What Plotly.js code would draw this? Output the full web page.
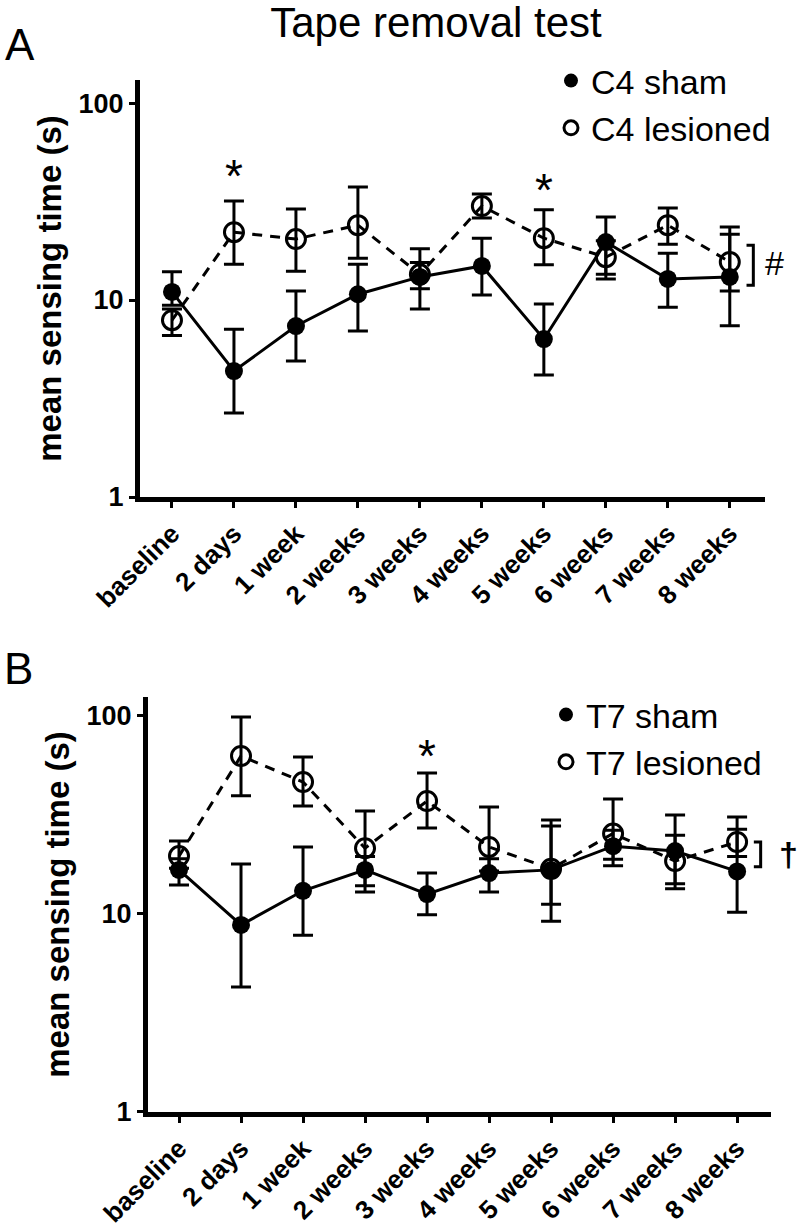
<!DOCTYPE html>
<html>
<head>
<meta charset="utf-8">
<script src="https://cdn.plot.ly/plotly-3.0.1.min.js"></script>
<style>html,body{margin:0;padding:0;background:#fff}#chart{width:800px;height:1229px}</style>
</head>
<body>
<div id="chart"></div>
<script>
// ---- data ----
const categories = ['baseline','2 days','1 week','2 weeks','3 weeks','4 weeks','5 weeks','6 weeks','7 weeks','8 weeks'];

// Panel A (C4)
const c4ShamMean  = [11.0, 4.36, 7.38, 10.7, 13.1, 14.9, 6.34, 19.7, 12.8, 13.1];
const c4ShamUpper = [13.9, 7.1, 11.1, 15.2, 15.5, 20.6, 9.55, 26.4, 17.3, 21.6];
const c4ShamLower = [9.4, 2.67, 4.9, 6.97, 9.0, 10.6, 4.16, 13.5, 9.2, 7.4];
const c4LesMean   = [7.9, 22.1, 20.4, 24.0, 13.5, 30.0, 20.6, 16.5, 24.0, 15.6];
const c4LesUpper  = [9.0, 31.8, 29.0, 37.5, 18.2, 34.5, 28.7, 20.0, 29.3, 23.5];
const c4LesLower  = [6.6, 15.2, 14.0, 16.3, 11.4, 26.1, 15.1, 12.8, 19.2, 11.1];

// Panel B (T7)
const t7ShamMean  = [16.7, 8.8, 13.1, 16.7, 12.6, 16.1, 16.7, 22.0, 20.8, 16.4];
const t7ShamUpper = [19.0, 17.9, 21.8, 19.5, 16.1, 19.0, 27.8, 26.5, 25.0, 26.8];
const t7ShamLower = [14.0, 4.28, 7.8, 12.9, 9.9, 12.9, 9.2, 18.9, 14.2, 10.2];
const t7LesMean   = [19.6, 62.8, 46.4, 21.5, 37.2, 21.8, 16.9, 25.5, 18.5, 23.1];
const t7LesUpper  = [23.4, 98.9, 62.1, 33.1, 51.5, 34.7, 29.8, 38.1, 31.6, 30.9];
const t7LesLower  = [17.0, 39.5, 35.1, 13.9, 27.2, 16.5, 11.2, 17.5, 13.4, 19.5];

// significance markers (category index, y value)
const starA_idx = [1, 6];
const starA_y   = [47.9, 40.6];
const starB_idx = [4];
const starB_y   = [70.5];

// group-difference brackets (y extent) and symbols
const bracketA = [11.9, 19.0];
const bracketB = [17.3, 23.1];
const bracketSymA = '#';
const bracketSymB = '†';

const yTickVals = [1, 10, 100];
const yTickText = ['1', '10', '100'];

// ---- helpers ----
const xIdx = categories.map((_, i) => i);
const up = (m, u) => u.map((v, i) => v - m[i]);
const dn = (m, l) => l.map((v, i) => m[i] - v);
const FONT = 'Liberation Sans, Arial, sans-serif';
const BX0 = 9.27, BX1 = 9.38;

function series(mean, upper, lower, xa, ya, lesioned) {
  return {
    x: xIdx, y: mean, xaxis: xa, yaxis: ya, type: 'scatter', mode: 'lines+markers',
    showlegend: false, cliponaxis: false,
    line: {color: '#000', width: 3, dash: lesioned ? '10px,8px' : 'solid'},
    marker: lesioned
      ? {symbol: 'circle-open', size: 19, color: '#000', line: {width: 3, color: '#000'}}
      : {symbol: 'circle', size: 18, color: '#000'},
    error_y: {type: 'data', symmetric: false, array: up(mean, upper), arrayminus: dn(mean, lower),
              color: '#000', thickness: 3, width: 10}
  };
}
function legendItem(name, lesioned, leg) {
  return {
    x: [null], y: [null], type: 'scatter', mode: 'markers', name: name, legend: leg,
    marker: lesioned
      ? {symbol: 'circle-open', size: 14, color: '#000', line: {width: 3, color: '#000'}}
      : {symbol: 'circle', size: 14, color: '#000'}
  };
}
function bracket(yr, xa, ya) {
  return {
    x: [BX0, BX1, BX1, BX0], y: [yr[1], yr[1], yr[0], yr[0]], xaxis: xa, yaxis: ya,
    type: 'scatter', mode: 'lines', showlegend: false, cliponaxis: false, hoverinfo: 'skip',
    line: {color: '#000', width: 3}
  };
}

const data = [
  series(c4LesMean, c4LesUpper, c4LesLower, 'x', 'y', true),
  series(c4ShamMean, c4ShamUpper, c4ShamLower, 'x', 'y', false),
  series(t7LesMean, t7LesUpper, t7LesLower, 'x2', 'y2', true),
  series(t7ShamMean, t7ShamUpper, t7ShamLower, 'x2', 'y2', false),
  bracket(bracketA, 'x', 'y'),
  bracket(bracketB, 'x2', 'y2'),
  legendItem('C4 sham', false, 'legend'),
  legendItem('C4 lesioned', true, 'legend'),
  legendItem('T7 sham', false, 'legend2'),
  legendItem('T7 lesioned', true, 'legend2')
];

function xAxis(domain, range, anchor) {
  return {
    domain: domain, range: range, anchor: anchor, tickmode: 'array', tickvals: xIdx, ticktext: categories,
    tickangle: -45, ticks: 'outside', ticklen: 6, tickwidth: 3, tickcolor: '#000',
    showline: true, linewidth: 5, linecolor: '#000', showgrid: false, zeroline: false,
    tickfont: {family: FONT, size: 26, color: '#000', weight: 'bold'}
  };
}
function yAxis(domain, range, anchor) {
  return {
    domain: domain, type: 'log', range: range, anchor: anchor, tickmode: 'array', tickvals: yTickVals, ticktext: yTickText,
    ticks: 'outside', ticklen: 6, tickwidth: 3, tickcolor: '#000',
    showline: true, linewidth: 5, linecolor: '#000', showgrid: false, zeroline: false,
    tickfont: {family: FONT, size: 27, color: '#000', weight: 'bold'},
    title: {text: 'mean sensing time (s)', standoff: 8,
            font: {family: FONT, size: 33, color: '#000', weight: 'bold'}}
  };
}

const annotations = [];
starA_idx.forEach((ix, i) => annotations.push({xref: 'x', yref: 'y', x: ix, y: Math.log10(starA_y[i]),
  text: '*', showarrow: false, font: {family: FONT, size: 46, color: '#000'}, yanchor: 'middle', yshift: -10}));
starB_idx.forEach((ix, i) => annotations.push({xref: 'x2', yref: 'y2', x: ix, y: Math.log10(starB_y[i]),
  text: '*', showarrow: false, font: {family: FONT, size: 46, color: '#000'}, yanchor: 'middle', yshift: -10}));
annotations.push({xref: 'x', yref: 'y', x: BX1, y: Math.log10(Math.sqrt(bracketA[0] * bracketA[1])),
  text: bracketSymA, showarrow: false, xanchor: 'left', xshift: 10, yshift: 2,
  font: {family: FONT, size: 34, color: '#000'}});
annotations.push({xref: 'x2', yref: 'y2', x: BX1, y: Math.log10(Math.sqrt(bracketB[0] * bracketB[1])),
  text: bracketSymB, showarrow: false, xanchor: 'left', xshift: 16,
  font: {family: FONT, size: 34, color: '#000', weight: 'bold'}});
annotations.push({xref: 'paper', yref: 'paper', x: 20 / 800, y: 1 - 45 / 1229, text: 'A', showarrow: false,
  xanchor: 'center', yanchor: 'middle', font: {family: FONT, size: 44, color: '#000'}});
annotations.push({xref: 'paper', yref: 'paper', x: 18 / 800, y: 1 - 668 / 1229, text: 'B', showarrow: false,
  xanchor: 'center', yanchor: 'middle', font: {family: FONT, size: 44, color: '#000'}});

const legendFont = {family: FONT, size: 34, color: '#000'};
const layout = {
  width: 800, height: 1229, margin: {l: 0, r: 0, t: 0, b: 0},
  paper_bgcolor: '#fff', plot_bgcolor: '#fff',
  title: {text: 'Tape removal test', x: 436 / 800, xanchor: 'center', xref: 'paper',
          y: 1 - 22 / 1229, yref: 'container', yanchor: 'middle',
          font: {family: FONT, size: 42, color: '#000'}},
  xaxis: xAxis([0.175, 0.956], [-0.516, 9.565], 'y'),
  yaxis: yAxis([0.5956, 0.9349], [0, 2.117], 'x'),
  xaxis2: xAxis([0.185, 0.964], [-0.5, 9.55], 'y2'),
  yaxis2: yAxis([0.0952, 0.4329], [0, 2.096], 'x2'),
  legend: {x: 551 / 800, y: 1 - 52 / 1229, xanchor: 'left', yanchor: 'top', bgcolor: 'rgba(0,0,0,0)',
           font: legendFont, itemsizing: 'trace', tracegroupgap: 0},
  legend2: {x: 546 / 800, y: 1 - 686 / 1229, xanchor: 'left', yanchor: 'top', bgcolor: 'rgba(0,0,0,0)',
            font: legendFont, itemsizing: 'trace', tracegroupgap: 0},
  annotations: annotations,
  showlegend: true
};

Plotly.newPlot('chart', data, layout, {displayModeBar: false, staticPlot: true});
</script>
</body>
</html>
